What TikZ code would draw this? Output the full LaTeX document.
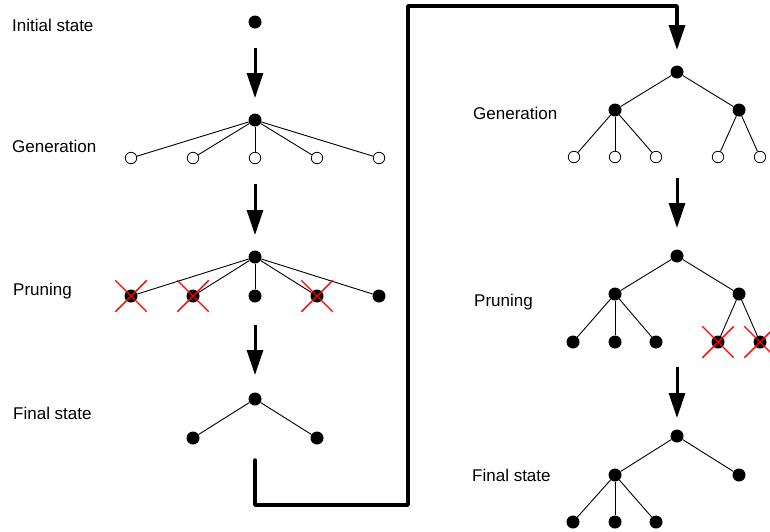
\documentclass[tikz,border=0pt]{standalone}
\usepackage{fontspec}
\setmainfont{Liberation Sans}
\usetikzlibrary{arrows.meta,shapes.misc}
\begin{document}
\begin{tikzpicture}[x=1pt,y=-1pt,
  dotf/.style={circle,fill=black,inner sep=0pt,minimum size=13pt},
  doto/.style={circle,draw=black,fill=white,line width=0.8pt,inner sep=0pt,minimum size=11.5pt},
  edg/.style={line width=0.9pt},
  lbl/.style={anchor=base west,inner sep=0pt,font=\fontsize{17}{20}\selectfont},
  flow/.style={line width=3pt,-{Triangle[length=25pt,width=16pt]}},
  xmark/.style={cross out,draw=red,line width=1.4pt,inner sep=0pt,minimum size=30pt}]
\useasboundingbox (0,0) rectangle (770,531);
\fill[white] (0,0) rectangle (770,531);

% ---------- left column ----------
\node[lbl] (l1) at (12,31.5) {Initial state};
\node[dotf] (i0) at (255,22) {};
\coordinate (a1s) at (255,48); \coordinate (a1e) at (255,98);
\draw[flow] (a1s) -- (a1e);

\node[lbl] (l2) at (12,152.5) {Generation};
\node[dotf] (g0) at (255,120) {};
\foreach \n/\x in {1/131,2/193,3/255,4/317,5/379}{
  \node[doto] (g\n) at (\x,158) {};
  \draw[edg] (g0) -- (g\n);
}
\coordinate (a2s) at (255,184); \coordinate (a2e) at (255,235);
\draw[flow] (a2s) -- (a2e);

\node[lbl] (l3) at (13,295) {Pruning};
\node[dotf] (p0) at (255,257) {};
\foreach \n/\x in {1/131,2/193,3/255,4/317,5/379}{
  \node[dotf] (p\n) at (\x,296) {};
  \draw[edg] (p0) -- (p\n);
}
\node[xmark] (x1) at (p1) {};
\node[xmark] (x2) at (p2) {};
\node[xmark] (x4) at (p4) {};
\coordinate (a3s) at (255,325); \coordinate (a3e) at (255,375);
\draw[flow] (a3s) -- (a3e);

\node[lbl] (l4) at (13,419) {Final state};
\node[dotf] (f0) at (255,399) {};
\node[dotf] (f1) at (193,438) {};
\node[dotf] (f2) at (317,438) {};
\draw[edg] (f0) -- (f1);
\draw[edg] (f0) -- (f2);

% ---------- connector ----------
\coordinate (c0) at (255,460);
\coordinate (c1) at (255,505);
\coordinate (c2) at (408,505);
\coordinate (c3) at (408,6);
\coordinate (c4) at (677,6);
\coordinate (c5) at (677,50);
\draw[flow,line width=3.5pt,line cap=round,line join=round] (c0) -- (c1) -- (c2) -- (c3) -- (c4) -- (c5);

% ---------- right column ----------
\node[lbl] (r2) at (473,119) {Generation};
\node[dotf] (G0) at (677,72) {};
\node[dotf] (G1) at (615,110) {};
\node[dotf] (G2) at (739,110) {};
\draw[edg] (G0) -- (G1); \draw[edg] (G0) -- (G2);
\foreach \n/\x/\p in {1/574/G1,2/615/G1,3/656/G1,4/718/G2,5/760/G2}{
  \node[doto] (GG\n) at (\x,157) {};
  \draw[edg] (\p) -- (GG\n);
}
\coordinate (b1s) at (677,178); \coordinate (b1e) at (677,228);
\draw[flow] (b1s) -- (b1e);

\node[lbl] (r3) at (474,306.5) {Pruning};
\node[dotf] (P0) at (677,256) {};
\node[dotf] (P1) at (615,294) {};
\node[dotf] (P2) at (739,294) {};
\draw[edg] (P0) -- (P1); \draw[edg] (P0) -- (P2);
\foreach \n/\x/\p in {1/573/P1,2/615/P1,3/656/P1,4/718/P2,5/760/P2}{
  \node[dotf] (PP\n) at (\x,342) {};
  \draw[edg] (\p) -- (PP\n);
}
\node[xmark] (X4) at (PP4) {};
\node[xmark] (X5) at (PP5) {};
\coordinate (b2s) at (677,367); \coordinate (b2e) at (677,418);
\draw[flow] (b2s) -- (b2e);

\node[lbl] (r4) at (472,481) {Final state};
\node[dotf] (F0) at (677,436) {};
\node[dotf] (F1) at (615,475) {};
\node[dotf] (F2) at (739,475) {};
\draw[edg] (F0) -- (F1); \draw[edg] (F0) -- (F2);
\foreach \n/\x in {1/573,2/615,3/656}{
  \node[dotf] (FF\n) at (\x,522) {};
  \draw[edg] (F1) -- (FF\n);
}
\end{tikzpicture}
\end{document}
